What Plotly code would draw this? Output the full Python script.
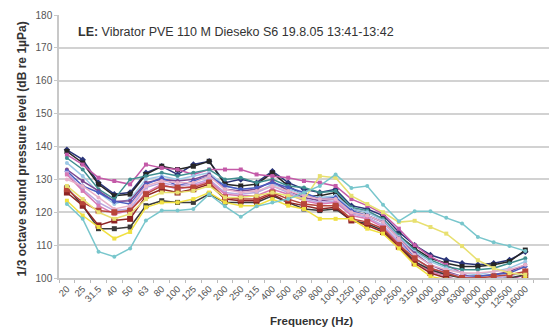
import plotly.graph_objects as go

freqs = ["20", "25", "31.5", "40", "50", "63", "80", "100", "125", "160", "200", "250",
         "315", "400", "500", "630", "800", "1000", "1250", "1600", "2000", "2500",
         "3150", "4000", "5000", "6300", "8000", "10000", "12500", "16000"]

s_navy = [139, 136, 129, 125.5, 126, 132, 134, 131.5, 134.5, 135.5, 129, 130, 129, 132.5, 129, 127, 126, 127, 122, 121, 119, 114, 110, 107, 105.5, 104.5, 104, 104.5, 105.5, 108]
s_black = [138.5, 135, 128.5, 125, 125.5, 131.5, 134, 133, 134, 135.5, 128.5, 128, 128.5, 132, 128, 125, 125, 126, 121, 120, 118, 113, 109, 106, 104.5, 103.5, 103.5, 104, 105, 108.5]
s_magenta = [137.5, 134.5, 130.5, 129.5, 128.5, 134.5, 133.5, 133, 131.5, 133, 133, 133, 131.5, 131, 130.5, 129.5, 129, 128, 124, 122, 119.5, 115, 110, 106.5, 104, 101.5, 99, 98.5, 99.5, 101]
s_teal = [136.5, 133, 127, 124, 130, 131, 132, 131, 132, 133, 130, 130.5, 129, 130, 128, 127.5, 126, 126.5, 121.5, 120.5, 118, 113, 108.5, 105.5, 103.5, 102.5, 102.5, 103, 104.5, 106]
s_lightblue = [135, 131, 126, 122.5, 124, 130, 131, 130, 131, 132, 128, 127, 126, 128.5, 127, 125.5, 124.5, 125, 121, 120, 117.5, 112.5, 108, 105, 103, 101.5, 101, 102, 103, 105]
s_purple = [133, 129.5, 126.5, 123.3, 123.5, 129, 130, 129.5, 130, 131.5, 127, 126.5, 127, 129.5, 126.5, 124.5, 123.5, 124, 120, 119, 117, 112, 107.5, 104, 102, 100.5, 100.5, 101, 102, 104]
s_blue = [132.5, 128, 126, 123.3, 122.5, 128.5, 130.5, 128, 129.5, 131, 128, 127, 127.5, 129, 127.5, 126, 124, 124.5, 120.5, 119, 117, 112, 106, 103, 101, 100.5, 100.5, 101, 101.5, 103.5]
s_lavender = [132, 127, 123, 120.5, 121, 127.5, 129, 128, 128.5, 130, 126, 125.5, 126, 128, 126, 124, 123, 123.5, 119.5, 118.5, 116, 111, 106, 103, 101.5, 100.5, 100, 100, 100.5, 102]
s_pink = [131.5, 126.5, 122, 119.5, 120.5, 126, 128.5, 127, 128, 129.5, 125.5, 125, 125, 127, 125.5, 123.5, 122.5, 123, 119, 118, 115.5, 110.5, 105, 102, 100.5, 99, 98, 98, 98.5, 100]
s_lightpink = [130, 128, 124.5, 121, 122, 128, 129.5, 129, 129, 131, 127, 126, 126.5, 128, 126.5, 125, 124, 124, 120, 119, 117, 112, 107, 104, 102.5, 101.5, 101.5, 102, 102.5, 104]
s_dark = [127.5, 122, 115, 115, 115.5, 122, 123.5, 123, 123, 125.5, 123, 123, 123, 125, 123, 121, 120.5, 121, 117.5, 116.5, 114.5, 110, 105, 102.5, 101, 100, 99.5, 99.5, 100, 101]
s_maroon = [126, 122, 116, 117.5, 118, 125, 127, 126, 127, 128.5, 124, 123.5, 123.5, 125.5, 123, 122, 121, 121.5, 117.5, 116, 114, 109.5, 104.5, 101.5, 100, 98.5, 97.5, 97, 98, 100.5]
s_red = [127, 123, 120.5, 120, 120.5, 125.5, 128, 127.5, 127.5, 129, 124.5, 124, 124, 126, 124, 122.5, 122, 122, 118, 117, 115, 110, 106, 103, 101.5, 100, 100, 100.5, 101, 102]
s_yellow = [123.5, 119, 115.5, 112, 114, 121.5, 123, 123, 124, 126, 123, 122, 122, 124, 122, 121, 118, 118, 118, 115, 113.5, 109, 104, 100.5, 99.5, 99, 98.5, 98.5, 99, 100]
s_yellow2 = [128, 124, 120, 118, 119.5, 124, 126, 126, 126.5, 128, 124.5, 124.5, 125, 126, 125, 124, 131, 130.5, 125, 122.5, 120, 117, 117.4, 115.5, 113.5, 109.7, 105.4, 103, 101.5, 101]
s_cyan = [122.5, 118, 108, 106.5, 109, 117.5, 120.5, 120.5, 121, 125.5, 121.8, 118.6, 121.8, 123, 124, 126, 128, 131.5, 127.4, 128, 122.3, 117.3, 120.3, 120.3, 118.3, 116.6, 112.5, 110.9, 109.7, 108.2]

series = [
    ("Navy", s_navy, "#2a3478", "diamond", 5),
    ("Black", s_black, "#262626", "square", 5),
    ("Magenta", s_magenta, "#c45aa8", "square", 4),
    ("Teal", s_teal, "#3f8f90", "circle", 4),
    ("Light blue", s_lightblue, "#9cc8e6", "circle", 4),
    ("Purple", s_purple, "#7d4690", "circle", 4),
    ("Blue", s_blue, "#4a5cc0", "diamond", 4),
    ("Lavender", s_lavender, "#b9a8e0", "square", 4),
    ("Pink", s_pink, "#d77ab4", "square", 4),
    ("Light pink", s_lightpink, "#e8b0c8", "circle", 4),
    ("Dark", s_dark, "#3a3a3a", "square", 5),
    ("Maroon", s_maroon, "#8e2424", "square", 6),
    ("Red", s_red, "#b8453a", "square", 6),
    ("Yellow", s_yellow, "#f0e040", "square", 4),
    ("Yellow 2", s_yellow2, "#e8e070", "square", 4),
    ("Cyan", s_cyan, "#78c6cc", "circle", 4),
]

fig = go.Figure()
for name, vals, color, sym, msize in series:
    fig.add_trace(go.Scatter(
        x=freqs, y=vals, mode="lines+markers", name=name,
        line=dict(color=color, width=1.5),
        marker=dict(color=color, symbol=sym, size=msize),
        showlegend=False,
    ))

font_family = "Liberation Sans, Arial, sans-serif"

fig.update_layout(
    width=550, height=333,
    margin=dict(l=59, r=1, t=15, b=55),
    paper_bgcolor="white", plot_bgcolor="white",
    font=dict(family=font_family, color="#444444"),
    xaxis=dict(
        type="category", categoryorder="array", categoryarray=freqs,
        range=[-0.5, 30.5], tickson="boundaries", ticks="outside",
        ticklen=3, tickcolor="#bbbbbb", tickangle=-45,
        tickfont=dict(size=9.5, color="#555555"),
        showgrid=False, showline=True, linecolor="#c8c8c8", linewidth=1.5,
        zeroline=False,
    ),
    yaxis=dict(
        range=[100, 180], dtick=10, tick0=100,
        tickfont=dict(size=10, color="#555555"),
        showgrid=True, gridcolor="#d2d2d2", gridwidth=1.5,
        showline=True, linecolor="#c8c8c8", linewidth=1.5,
        ticks="outside", ticklen=3, tickcolor="#c8c8c8",
        zeroline=False,
    ),
    annotations=[
        dict(text="<b>LE:</b> Vibrator PVE 110 M Dieseko S6 19.8.05 13:41-13:42",
             xref="paper", yref="paper", x=0.035, y=0.935, xanchor="left", yanchor="middle",
             showarrow=False, font=dict(size=12.5, color="#333333", family=font_family)),
        dict(text="<b>1/3 octave sound pressure level (dB re 1µPa)</b>",
             xref="paper", yref="paper", x=-0.075, y=0.49, xanchor="center", yanchor="middle",
             textangle=-90, showarrow=False,
             font=dict(size=12, color="#333333", family=font_family)),
        dict(text="<b>Frequency (Hz)</b>",
             xref="paper", yref="paper", x=0.515, y=-0.165, xanchor="center", yanchor="middle",
             showarrow=False, font=dict(size=11.5, color="#333333", family=font_family)),
    ],
)

fig.write_html("out.html")
